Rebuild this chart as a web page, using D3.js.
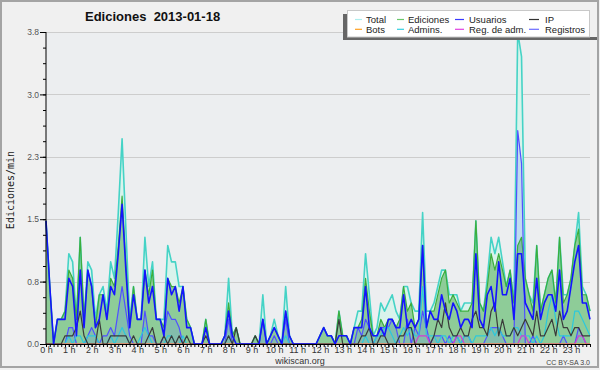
<!DOCTYPE html>
<html><head><meta charset="utf-8">
<script src="https://cdn.jsdelivr.net/npm/d3@7"></script>
<style>body{margin:0;background:#f0f0f0;}svg{display:block}</style>
</head><body><svg id="c" width="600" height="370"></svg>
<script>
// ---- data (edits per minute, 10-minute steps, 2013-01-18) ----
const hourLabels = ["0 h","1 h","2 h","3 h","4 h","5 h","6 h","7 h","8 h","9 h","10 h","11 h","12 h","13 h","14 h","15 h","16 h","17 h","18 h","19 h","20 h","21 h","22 h","23 h"];
const yTickValues = [0, 0.76, 1.52, 2.28, 3.04, 3.8];
const yTickLabels = ["0.0","0.8","1.5","2.3","3.0","3.8"];
const seriesNames = ["Total","Ediciones","Usuarios","IP","Bots","Admins.","Reg. de adm.","Registros"];

const total = [
1.5,0.7,0,0.3,0.3,0.4,1.1,1.0,0.3,1.3, 0.3,1.0,0.9,0.3,0.6,0.7,0.4,1.0,0.8,1.6,
2.5,1.4,0.3,0.7,0.3,0.3,1.3,0.7,1.0,0.3, 0.3,0.3,1.2,1.0,1.0,0.7,0.7,0.3,0.2,0,
0,0,0.3,0,0,0,0,0.1,0.8,0.1, 0.2,0,0,0,0,0.1,0,0.6,0,0.1,
0.3,0.1,0,0.7,0.1,0,0,0,0,0, 0,0,0.1,0.2,0.1,0.1,0,0.4,0.1,0.1,
0,0.2,0.4,0.4,1.1,0.6,0.1,0.2,0.5,0.4, 0.5,0.6,0.4,0.3,0.7,0.7,0.5,0.4,0.4,1.6,
0.4,0.4,0.5,0.7,0.9,0.9,0.6,0.6,0.6,0.4, 0.5,0.5,0.5,1.5,0.5,0.4,0.8,1.3,1.1,1.3,
1.0,0.7,0.9,0.5,3.8,3.5,0.8,0.6,0.5,1.2, 0.4,0.6,0.8,0.9,0.5,1.3,0.6,0.6,0.8,1.2,
1.6,0.7,0.6,0.4];
const ediciones = [
1.5,0.7,0,0.3,0.3,0.4,0.9,0.8,0.3,1.3, 0.3,0.9,0.7,0.2,0.6,0.6,0.3,0.8,0.7,1.2,
1.8,1.0,0.2,0.7,0.3,0.3,0.9,0.6,0.9,0.3, 0.3,0.2,0.8,0.7,0.7,0.5,0.7,0.3,0.2,0,
0,0,0.3,0,0,0,0,0.1,0.5,0.1, 0.2,0,0,0,0,0.1,0,0.3,0,0.1,
0.2,0.1,0,0.4,0.1,0,0,0,0,0, 0,0,0.1,0.2,0.1,0.1,0,0.4,0.1,0.1,
0,0.2,0.2,0.3,0.8,0.4,0.1,0.1,0.3,0.2, 0.3,0.3,0.2,0.3,0.7,0.4,0.5,0.2,0.3,1.2,
0.2,0.4,0.4,0.6,0.8,0.9,0.5,0.6,0.5,0.4, 0.4,0.4,0.5,1.5,0.5,0.4,0.7,1.1,0.9,1.1,
0.9,0.7,0.9,0.5,1.2,1.3,0.8,0.6,0.4,1.2, 0.4,0.6,0.8,0.9,0.5,1.3,0.5,0.6,0.8,1.2,
1.4,0.6,0.6,0.4];
const usuarios = [
1.5,0.7,0,0.3,0.3,0.3,0.8,0.7,0.1,0.9, 0.2,0.9,0.7,0.2,0.3,0.6,0.3,0.7,0.6,1.1,
1.7,0.9,0.2,0.6,0.3,0.3,0.9,0.5,0.7,0.3, 0.3,0.1,0.8,0.6,0.7,0.4,0.7,0.2,0.2,0,
0,0,0.2,0,0,0,0,0.1,0.4,0.1, 0,0,0,0,0,0,0,0.3,0,0.1,
0.2,0.1,0,0.4,0.1,0,0,0,0,0, 0,0,0.1,0.2,0.1,0.1,0,0.1,0.1,0.1,
0,0.2,0.2,0.2,0.7,0.2,0.1,0.1,0.2,0.1, 0.3,0.3,0.2,0.2,0.6,0.2,0.3,0.2,0.3,1.2,
0.2,0.4,0.3,0.3,0.6,0.4,0.3,0.5,0.4,0.2, 0.3,0.3,0.2,1.1,0.3,0.2,0.6,0.7,0.4,1.0,
0.6,0.6,0.8,0.3,1.1,1.1,0.5,0.4,0.3,0.8, 0.3,0.5,0.6,0.6,0.4,0.9,0.3,0.4,0.7,1.0,
1.2,0.5,0.5,0.3];
const ip = [
0,0,0,0,0,0.1,0.1,0.1,0.2,0.4, 0.1,0,0,0,0.3,0,0,0.1,0.1,0.1,
0.1,0.1,0,0.1,0,0,0,0.1,0.2,0, 0,0.1,0,0.1,0,0.1,0,0.1,0,0,
0,0,0.1,0,0,0,0,0,0.1,0, 0.2,0,0,0,0,0.1,0,0,0,0,
0,0,0,0,0,0,0,0,0,0, 0,0,0,0,0,0,0,0.3,0,0,
0,0,0,0.1,0.1,0.2,0,0,0.1,0.1, 0,0,0,0.1,0.1,0.2,0.2,0,0,0,
0,0,0.1,0.3,0.2,0.5,0.2,0.1,0.1,0.2, 0.1,0.1,0.3,0.4,0.2,0.2,0.1,0.4,0.5,0.1,
0.3,0.1,0.1,0.2,0.1,0.2,0.3,0.2,0.1,0.4, 0.1,0.1,0.2,0.3,0.1,0.4,0.2,0.2,0.1,0.2,
0.2,0.1,0.1,0.1];
const bots = [
0,0,0,0,0,0,0,0,0,0, 0,0,0,0,0,0,0,0,0,0, 0,0,0,0,0,0,0,0,0,0, 0,0,0,0,0,0,0,0,0,0,
0,0,0,0,0,0,0,0,0,0, 0,0,0,0,0,0,0,0,0,0, 0,0,0,0,0,0,0,0,0,0, 0,0,0,0,0,0,0,0,0,0,
0,0,0,0,0,0,0,0,0,0, 0,0,0,0,0,0,0,0,0,0, 0,0,0,0,0,0,0,0,0,0, 0,0,0,0,0,0,0,0,0,0,
0,0,0,0,0,0,0,0,0,0, 0,0,0,0,0,0,0,0,0,0, 0,0,0,0];
const admins = [
0,0,0,0,0,0,0.1,0,0.1,0.1, 0,0.1,0.1,0.1,0,0,0,0.1,0,0.1,
0.2,0.1,0,0,0,0.1,0.2,0.1,0,0, 0,0,0.1,0.1,0,0,0.1,0,0,0,
0,0,0,0,0,0,0,0,0.1,0, 0,0,0,0,0,0,0,0,0,0,
0,0,0,0.1,0,0,0,0,0,0, 0,0,0,0,0,0,0,0,0,0,
0,0,0,0,0.1,0,0,0.1,0.1,0.2, 0.2,0.1,0,0.1,0.2,0.1,0.2,0.1,0.1,0.7,
0.1,0.1,0.1,0,0.1,0.1,0,0.1,0.1,0, 0.1,0.1,0,0.1,0.1,0.1,0.1,0.2,0.1,0.2,
0.1,0.1,0.1,0.2,0.2,0.1,0.1,0.1,0,0.1, 0,0.1,0.4,0.6,0.3,0.1,0.1,0.1,0.1,0.4,
0.4,0.3,0.2,0.1];
const regAdm = [
0,0,0,0,0,0,0,0,0,0, 0,0,0,0,0,0,0,0,0,0, 0,0,0,0,0,0,0,0,0,0, 0,0,0,0,0,0,0,0,0,0,
0,0,0,0,0,0,0,0,0,0, 0,0,0,0,0,0,0,0,0,0, 0,0,0,0,0,0,0,0,0,0, 0,0,0,0,0,0,0,0,0,0,
0,0,0,0,0,0,0,0,0,0, 0,0,0,0,0,0,0,0,0.1,0.1, 0.1,0,0,0,0,0,0,0,0.1,0.1,
0,0,0,0,0,0,0,0,0,0, 0,0,0,0,0,0.1,0.1,0,0,0, 0,0,0,0,0,0,0,0,0,0,
0.1,0.1,0,0];
const registros = [
0,0,0,0,0,0,0.2,0.2,0,0, 0,0.1,0.2,0.1,0,0.1,0.1,0.2,0.1,0.4,
0.7,0.4,0.1,0,0,0,0.4,0.1,0.1,0, 0,0.1,0.4,0.3,0.3,0.2,0,0,0,0,
0,0,0,0,0,0,0,0,0.3,0, 0,0,0,0,0,0,0,0.3,0,0,
0.1,0,0,0.3,0,0,0,0,0,0, 0,0,0,0,0,0,0,0,0,0,
0,0,0.2,0.1,0.3,0.2,0,0.1,0.2,0.2, 0.2,0.3,0.2,0,0,0.3,0,0.2,0.1,0.4,
0.2,0,0.1,0.1,0.1,0,0.1,0,0.1,0, 0.1,0.1,0,0,0,0,0.1,0.2,0.2,0.2,
0.1,0,0,0,2.6,2.2,0,0,0.1,0, 0,0,0,0,0,0,0.1,0,0,0,
0.2,0.1,0,0];

// ---- drawing ----
const W = 600, H = 370;
const svg = d3.select("#c");
const x = d3.scaleLinear().domain([0, total.length - 1]).range([46, 590]);
const y = d3.scaleLinear().domain([0, 3.8]).range([344, 32]);
const FONT = "'Liberation Sans', Arial, sans-serif";

svg.append("rect").attr("width", W).attr("height", H).attr("fill", "#f0f0f0");
svg.append("rect").attr("x", 1).attr("y", 1).attr("width", W - 3).attr("height", H - 4)
  .attr("fill", "none").attr("stroke", "#a4a4a4").attr("stroke-width", 2);
svg.append("rect").attr("x", 46).attr("y", 32).attr("width", 544).attr("height", 312).attr("fill", "#eceef0");

// grid
svg.append("g").selectAll("line").data(yTickValues.slice(1)).join("line")
  .attr("x1", 46).attr("x2", 590).attr("y1", d => Math.round(y(d)) + 0.5).attr("y2", d => Math.round(y(d)) + 0.5)
  .attr("stroke", "#cdcdcd").attr("stroke-width", 1);

const areaGen = d3.area().x((d, i) => x(i)).y0(y(0)).y1(d => y(d));
const lineGen = d3.line().x((d, i) => x(i)).y(d => y(d));

svg.append("path").attr("d", areaGen(total)).attr("fill", "#d9f3ec");
svg.append("path").attr("d", areaGen(ediciones)).attr("fill", "rgba(60,160,60,0.48)");
svg.append("path").attr("d", areaGen(registros)).attr("fill", "rgba(90,130,255,0.2)");

const lines = [
  {d: total, c: "#45d3c6", w: 1.6},
  {d: ediciones, c: "#3cae3c", w: 1.2},
  {d: registros, c: "#5050ff", w: 1.2},
  {d: admins, c: "#2cc8dc", w: 1.2},
  {d: regAdm, c: "#d23cd2", w: 1.2},
  {d: bots, c: "#ffa020", w: 1.2},
  {d: ip, c: "#3a3a3a", w: 1.2},
  {d: usuarios, c: "#1414ff", w: 1.6}
];
lines.forEach(s => {
  svg.append("path").attr("d", lineGen(s.d)).attr("fill", "none")
    .attr("stroke", s.c).attr("stroke-width", s.w).attr("stroke-linejoin", "round");
});

// y axis
const minorY = d3.range(0, 21).map(k => 3.8 * k / 20);
const yMinor = svg.append("g").attr("transform", "translate(46,0)")
  .call(d3.axisLeft(y).tickValues(minorY).tickSize(3).tickFormat(""));
yMinor.select(".domain").remove();
const yAxis = svg.append("g").attr("transform", "translate(46,0)")
  .call(d3.axisLeft(y).tickValues(yTickValues).tickSize(6).tickPadding(1)
    .tickFormat((d, i) => yTickLabels[i]));
yAxis.select(".domain").attr("stroke", "#000").attr("d", "M0,32V344");
svg.selectAll(".tick line").attr("stroke", "#000");
yAxis.selectAll("text").attr("font-family", FONT).attr("font-size", 8.5).attr("fill", "#555");

// x axis
const xMinor = svg.append("g").attr("transform", "translate(0,344)")
  .call(d3.axisBottom(x).tickValues(d3.range(0, total.length)).tickSize(3).tickFormat(""));
xMinor.select(".domain").remove();
xMinor.selectAll("line").attr("stroke", "#000");
const xAxis = svg.append("g").attr("transform", "translate(0,344)")
  .call(d3.axisBottom(x).tickValues(hourLabels.map((h, k) => k * 6)).tickSize(3).tickPadding(0)
    .tickFormat((d, k) => hourLabels[k]));
xAxis.select(".domain").attr("stroke", "#000").attr("d", "M46,0.5H590");
xAxis.selectAll("line").attr("stroke", "#000");
xAxis.selectAll("text").attr("font-family", FONT).attr("font-size", 9).attr("fill", "#333").attr("dy", "0.72em");

// title & labels
svg.append("text").attr("x", 85).attr("y", 21).text("Ediciones  2013-01-18")
  .attr("font-family", FONT).attr("font-weight", "bold").attr("font-size", 13).attr("fill", "#111")
  .attr("xml:space", "preserve").style("white-space", "pre");
svg.append("text").attr("transform", "translate(10,190) rotate(-90)").attr("text-anchor", "middle")
  .attr("dominant-baseline", "central").text("Ediciones/min")
  .attr("font-family", "'DejaVu Sans Mono', monospace").attr("font-size", 10).attr("fill", "#222");
svg.append("text").attr("x", 300).attr("y", 364).attr("text-anchor", "middle").text("wikiscan.org")
  .attr("font-family", FONT).attr("font-size", 9).attr("fill", "#333");
svg.append("text").attr("x", 590).attr("y", 365).attr("text-anchor", "end").text("CC BY-SA 3.0")
  .attr("font-family", FONT).attr("font-size", 7).attr("fill", "#444");

// legend
svg.append("rect").attr("x", 343).attr("y", 14).attr("width", 4).attr("height", 26).attr("fill", "#666");
svg.append("rect").attr("x", 343).attr("y", 37).attr("width", 254).attr("height", 3).attr("fill", "#666");
svg.append("rect").attr("x", 347.5).attr("y", 10.5).attr("width", 242).attr("height", 26.5)
  .attr("fill", "#fff").attr("stroke", "#c8c8c8");
const legendColors = ["#aeeeee", "#6cc86c", "#3a3aff", "#333333", "#ffa020", "#33d0e0", "#e040e0", "#6a6aff"];
const swX = [355, 397, 455, 529], swW = [7, 7, 9, 10], txX = [366, 408, 469, 545];
seriesNames.forEach((name, k) => {
  const col = k % 4, row = Math.floor(k / 4);
  const cy = 19.5 + row * 9.8;
  svg.append("line").attr("x1", swX[col]).attr("x2", swX[col] + swW[col]).attr("y1", cy).attr("y2", cy)
    .attr("stroke", legendColors[k]).attr("stroke-width", 1.2);
  svg.append("text").attr("x", txX[col]).attr("y", cy + 3.3).text(name)
    .attr("font-family", FONT).attr("font-size", 9.5).attr("fill", "#222");
});
</script></body></html>
